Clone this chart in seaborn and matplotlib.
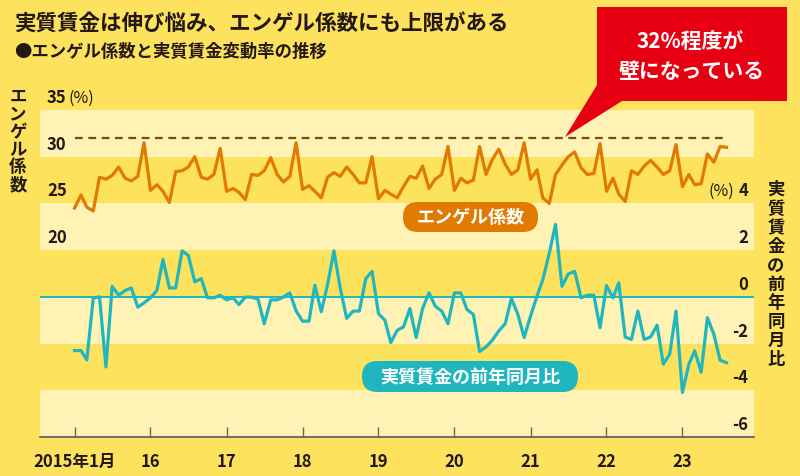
import numpy as np
import pandas as pd
import matplotlib
matplotlib.use("Agg")
import matplotlib.pyplot as plt
import matplotlib.transforms as mtransforms
from matplotlib.patches import Rectangle, Polygon, FancyBboxPatch
import seaborn as sns

plt.rcParams["font.family"] = ["Noto Sans CJK JP", "DejaVu Sans"]

# データ(2015年1月〜2023年8月、月次)
months = pd.date_range("2015-01-01", periods=104, freq="MS")

# エンゲル係数(%)
engel = [24.5, 25.9, 24.6, 24.2, 27.8, 27.6, 28.0, 28.9, 27.7, 27.4, 27.9, 31.5,
         26.4, 27.0, 26.3, 25.1, 28.4, 28.5, 28.9, 30.0, 27.8, 27.6, 28.1, 30.9,
         26.3, 26.6, 26.2, 25.4, 28.1, 28.0, 28.5, 29.9, 28.1, 27.3, 27.9, 31.5,
         26.5, 26.9, 26.3, 25.6, 27.8, 28.3, 27.9, 28.9, 28.1, 27.2, 27.2, 30.0,
         25.5, 26.4, 26.0, 25.6, 26.8, 27.9, 27.7, 29.0, 26.6, 27.6, 28.1, 31.1,
         26.4, 27.7, 27.2, 27.5, 31.1, 28.1, 29.7, 30.8, 29.2, 28.1, 28.6, 31.5,
         27.6, 28.6, 25.6, 25.0, 28.1, 29.1, 30.0, 30.5, 28.8, 28.1, 28.2, 31.4,
         26.3, 27.7, 26.0, 25.2, 28.5, 28.1, 29.0, 29.6, 28.9, 28.1, 28.5, 31.3,
         26.8, 28.1, 27.0, 27.1, 30.3, 29.4, 31.1, 31.0]

# 実質賃金の前年同月比(%)
wage = [-2.3, -2.3, -2.7, -0.05, 0.0, -3.0, 0.45, 0.07, 0.27, 0.38, -0.44, -0.26,
        -0.04, 0.28, 1.6, 0.38, 0.38, 1.97, 1.77, 0.64, 0.78, -0.04, -0.04, 0.07,
        -0.13, -0.04, -0.33, -0.01, -0.01, -0.1, -1.15, -0.13, -0.13, -0.01, 0.17, -0.6,
        -1.04, -1.04, 0.5, -0.64, 0.52, 1.97, 0.38, -0.92, -0.61, -0.61, 0.78, 1.09,
        -0.72, -1.0, -1.96, -1.43, -1.29, -0.5, -1.74, -0.5, 0.17, -0.4, -0.61, -1.15,
        0.17, 0.17, -0.54, -0.75, -2.34, -2.14, -1.86, -1.46, -1.15, -0.07, -0.75, -1.74,
        -0.82, 0.03, 0.74, 1.87, 3.1, 0.45, 0.98, 1.09, -0.04, 0.07, 0.07, -1.32,
        0.48, -0.04, 0.6, -1.72, -1.82, -0.61, -1.82, -1.72, -1.21, -2.88, -2.45, -0.61,
        -4.09, -2.88, -2.31, -3.23, -0.89, -1.6, -2.71, -2.82]

year_ticks = pd.date_range("2015-01-01", periods=9, freq="YS")
year_labels = ["2015年1月", "16", "17", "18", "19", "20", "21", "22", "23"]
engel_ticks = [20, 25, 30, 35]
wage_ticks = [-6, -4, -2, 0, 2, 4]
engel_wall = 32

df = pd.DataFrame({"month": months, "engel": engel, "wage": wage})

# 色
BG = "#FDE25E"
LIGHT = "#FFF2B5"
ORANGE = "#E07A00"
TEAL = "#20B6BF"
BROWN = "#7B4A12"
RED = "#E60012"
INK = "#231815"

fig = plt.figure(figsize=(8, 4.77), dpi=100, facecolor=BG)
ax = fig.add_axes([40 / 800, 1 - 438 / 477, 714 / 800, 327 / 477])
ax.set_facecolor(BG)
ax2 = ax.twinx()

ax.set_ylim(0, 35)
ax2.set_ylim(-6, 8)

# 背景の帯
for lo in range(0, 35, 10):
    ax.axhspan(lo, lo + 5, color=LIGHT, lw=0, zorder=0)

# 32%の壁
ax.plot([months[0], months[-1]], [engel_wall, engel_wall], color=BROWN,
        lw=1.6, ls=(0, (3.5, 2.5)), zorder=2)

sns.lineplot(data=df, x="month", y="engel", ax=ax, color=ORANGE, linewidth=2.3, zorder=3)
ax2.axhline(0, color=TEAL, lw=1.4, zorder=1)
sns.lineplot(data=df, x="month", y="wage", ax=ax2, color=TEAL, linewidth=2.3, zorder=3)

ax.set_xlim(pd.Timestamp("2014-07-19"), pd.Timestamp("2023-12-11"))

for a in (ax, ax2):
    for s in a.spines.values():
        s.set_visible(False)
    a.set_yticks([])
    a.set_xlabel("")
    a.set_ylabel("")
ax.spines["bottom"].set_visible(True)
ax.spines["bottom"].set_color("#5a5a5a")
ax.spines["bottom"].set_linewidth(1.2)

ax.set_xticks(year_ticks)
ax.set_xticklabels(year_labels, fontsize=12, fontweight="bold", color=INK)
ax.tick_params(axis="x", direction="in", length=7, width=1, color="#666666", pad=11)
ax2.tick_params(axis="x", length=0)

# 目盛りラベル(線の少し上)
left_tr = mtransforms.offset_copy(ax.get_yaxis_transform(), fig=fig, y=13, units="dots")
for v in engel_ticks:
    ax.text(7 / 714, v, str(v), transform=left_tr, ha="left", va="center",
            fontsize=12, fontweight="bold", color=INK)
ax.text(28 / 714, 35, "(%)", transform=left_tr, ha="left", va="center",
        fontsize=11.5, color=INK)

right_tr = mtransforms.offset_copy(ax2.get_yaxis_transform(), fig=fig, y=13, units="dots")
for v in wage_ticks:
    ax2.text(708 / 714, v, str(v), transform=right_tr, ha="right", va="center",
             fontsize=12, fontweight="bold", color=INK)
ax2.text(694 / 714, 4, "(%)", transform=right_tr, ha="right", va="center",
         fontsize=11.5, color=INK)

# 注記用のレイヤー(ピクセル座標)
ov = fig.add_axes([0, 0, 1, 1], zorder=5)
ov.set_xlim(0, 800)
ov.set_ylim(477, 0)
ov.axis("off")

ov.text(14, 24, "実質賃金は伸び悩み、エンゲル係数にも上限がある", ha="left", va="center",
        fontsize=15.5, fontweight="bold", color=INK)
ov.text(14, 52, "●エンゲル係数と実質賃金変動率の推移", ha="left", va="center",
        fontsize=12.5, fontweight="bold", color=INK)

for i, ch in enumerate("エンゲル係数"):
    ov.text(18, 97 + i * 17.6, ch, ha="center", va="center",
            fontsize=12.5, fontweight="bold", color=INK)
for i, ch in enumerate("実質賃金の前年同月比"):
    ov.text(776, 190 + i * 18.9, ch, ha="center", va="center",
            fontsize=12.5, fontweight="bold", color=INK)

# 吹き出し
ov.add_patch(Rectangle((597, 8), 190, 94, fc=RED, ec="none"))
ov.add_patch(Polygon([(597, 86), (622, 102), (565, 138)], closed=True, fc=RED, ec="none"))
ov.text(690, 42, "32%程度が", ha="center", va="center", fontsize=15,
        fontweight="bold", color="white")
ov.text(692, 72, "壁になっている", ha="center", va="center", fontsize=15,
        fontweight="bold", color="white")

# 系列ラベル
ov.add_patch(FancyBboxPatch((403, 203), 135, 30, boxstyle="round,pad=0,rounding_size=15",
                            fc=ORANGE, ec="none"))
ov.text(470.5, 218, "エンゲル係数", ha="center", va="center", fontsize=13,
        fontweight="bold", color="white")
ov.add_patch(FancyBboxPatch((362, 362), 216, 31, boxstyle="round,pad=0,rounding_size=15.5",
                            fc=TEAL, ec="none"))
ov.text(470, 377.5, "実質賃金の前年同月比", ha="center", va="center", fontsize=13,
        fontweight="bold", color="white")

fig.savefig("out.png", dpi=100, facecolor=BG)
